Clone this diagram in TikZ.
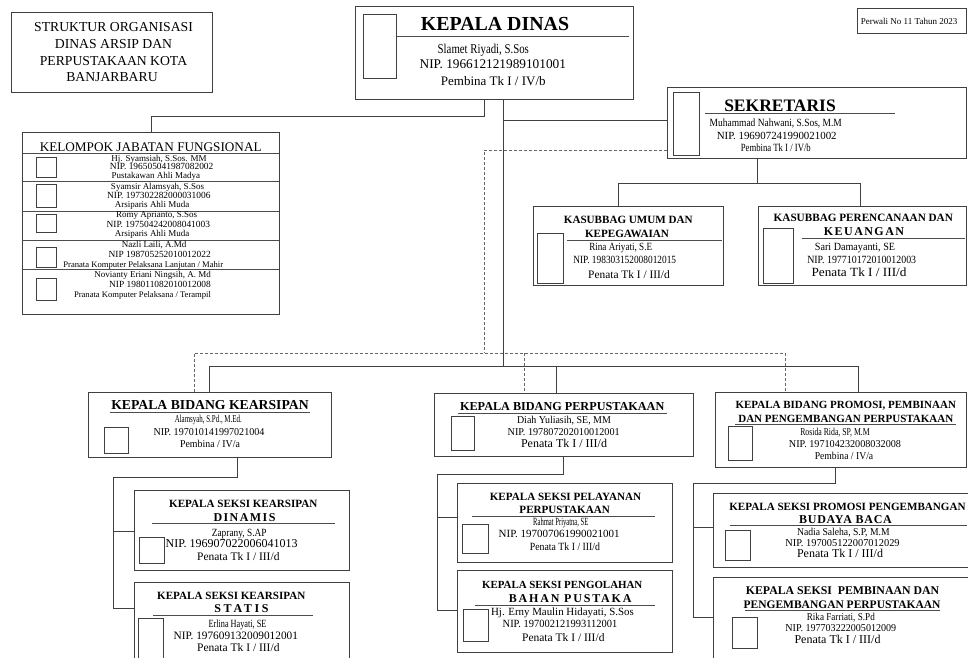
\documentclass[tikz,border=0pt]{standalone}
\usepackage{graphicx}
\usepackage{fontspec}
\setmainfont{Liberation Serif}
\tikzset{
  box/.style={draw=black!75, line width=0.8pt, inner sep=0pt, outer sep=0pt, fill=white},
  photo/.style={draw=black!75, line width=0.8pt, inner sep=0pt, outer sep=0pt},
  txt/.style={anchor=base, inner sep=0pt, outer sep=0pt, text=black},
  conn/.style={draw=black!75, line width=0.8pt},
  dashline/.style={draw=black!60, line width=0.8pt, dash pattern=on 3pt off 2pt},
  rulebar/.style={draw=black!70, line width=0.8pt},
}
\newcommand\mybox[5]{\node[box,minimum width={(#4-#2)*1pt},minimum height={(#5-#3)*1pt}] (#1) at ({(#2+#4)/2},{(#3+#5)/2}) {};}
\newcommand\myph[5]{\node[photo,minimum width={(#4-#2)*1pt},minimum height={(#5-#3)*1pt}] (#1) at ({(#2+#4)/2},{(#3+#5)/2}) {};}
\newcommand\mytxt[6]{\node[txt] (#1) at (#2,#3) {\scalebox{#5}[1]{\fontsize{#4}{#4}\selectfont #6}};}
\newcommand\mybold[6]{\node[txt] (#1) at (#2,#3) {\fontsize{#4}{#4}\selectfont\bfseries\addfontfeature{#5}#6};}
\begin{document}
\begin{tikzpicture}[x=1pt,y=-1pt]
\useasboundingbox (0,0) rectangle (968,657);
\fill[white] (0,0) rectangle (968,657);

\coordinate (jA) at (484,116);
\coordinate (jB) at (151,116);
% boxes
\mybox{ttl}{11}{12}{212}{92}
\mybox{pw}{857}{8}{966.5}{33}
\mybox{kd}{355}{6}{633}{99}
\mybox{sek}{667}{87}{966.5}{158}
\mybox{kjf}{22}{132}{279}{314}
\mybox{kum}{533}{206}{723}{285}
\mybox{kpk}{758}{206}{966.5}{285}
\mybox{bka}{88}{392}{331}{457}
\mybox{bpu}{434}{393}{693}{456}
\mybox{bpr}{715}{392}{966.5}{467}
\mybox{sdi}{134}{490}{349}{570}
\mybox{sst}{134}{582}{349}{672}
\mybox{spl}{457}{483}{672}{562}
\mybox{spo}{457}{570}{672}{652}
\mybox{spb}{713}{493}{980}{567}
\mybox{spp}{713}{577}{980}{672}

% solid lines
\draw[conn] (484,0 |- kd.south) -- (jA) -- (jB) -- (151,0 |- kjf.north);
\draw[conn] (503,0 |- kd.south) -- (503,366);
\draw[conn] (503,120) -- (sek.west |- 0,120);
\draw[conn] (757,0 |- sek.south) -- (757,183);
\draw[conn] (618,0 |- kum.north) -- (618,183) -- (860,183) -- (860,0 |- kpk.north);
\draw[conn] (209,0 |- bka.north) -- (209,366) -- (858,366) -- (858,0 |- bpr.north);
\draw[conn] (556,366) -- (556,0 |- bpu.north);
% dashed coordination lines
\draw[dashline] (sek.west |- 0,150) -- (484,150) -- (484,353);
\draw[dashline] (194,0 |- bka.north) -- (194,353) -- (785,353) -- (785,0 |- bpr.north);
\draw[dashline] (524,353) -- (524,0 |- bpu.north);
% bidang -> seksi
\draw[conn] (237,0 |- bka.south) -- (237,477) -- (113,477) -- (113,608) -- (sst.west |- 0,608);
\draw[conn] (113,531) -- (sdi.west |- 0,531);
\draw[conn] (563,0 |- bpu.south) -- (563,474) -- (437,474) -- (437,610) -- (spo.west |- 0,610);
\draw[conn] (437,517) -- (spl.west |- 0,517);
\draw[conn] (835,0 |- bpr.south) -- (835,483) -- (693,483) -- (693,617) -- (spp.west |- 0,617);
\draw[conn] (693,527) -- (spb.west |- 0,527);

% photos
\myph{kdp}{363}{14}{396}{78}
\myph{sekp}{673}{92}{699}{155}
\myph{kump}{537}{233}{563}{283}
\myph{kpkp}{763}{228}{793}{283}
\myph{kj1}{36}{157}{56}{177}
\myph{kj2}{36}{184}{56}{207}
\myph{kj3}{36}{214}{56}{232}
\myph{kj4}{36}{247}{56}{267}
\myph{kj5}{36}{278}{56}{300}
\myph{bkap}{104}{427}{128}{453}
\myph{bpup}{451}{416}{474}{450}
\myph{bprp}{728}{426}{752}{460}
\myph{sdip}{139}{537}{164}{563}
\myph{sstp}{138}{618}{163}{672}
\myph{splp}{462}{524}{488}{553}
\myph{spop}{463}{609}{488}{641}
\myph{spbp}{725}{530}{750}{560}
\myph{sppp}{732}{617}{757}{648}

% rules inside boxes
\draw[rulebar] (397,36) -- (629,36);
\draw[rulebar] (705,113) -- (895,113);
\foreach \yy in {153,181.7,211,240,269} \draw[rulebar] (22,\yy) -- (279,\yy);
\draw[rulebar] (567,240) -- (722,240);
\draw[rulebar] (802,238) -- (965,238);
\draw[rulebar] (110,412.5) -- (310,412.5);
\draw[rulebar] (458,413.5) -- (667,413.5);
\draw[rulebar] (735,424) -- (956,424);
\draw[rulebar] (152,523.5) -- (335,523.5);
\draw[rulebar] (153,615) -- (313,615);
\draw[rulebar] (472,516) -- (655,516);
\draw[rulebar] (475,605) -- (655,605);
\draw[rulebar] (730,525) -- (967,525);
\draw[rulebar] (745,610) -- (940,610);

% texts
\mytxt{ti1}{113.5}{31.7}{13.7}{1}{STRUKTUR ORGANISASI}
\mytxt{ti2}{113.5}{48.4}{13.7}{1}{DINAS ARSIP DAN}
\mytxt{ti3}{113.5}{65.1}{13.7}{1}{PERPUSTAKAAN KOTA}
\mytxt{ti4}{112}{81.8}{13.7}{1}{BANJARBARU}

\mytxt{pw1}{909}{24.5}{9}{1}{Perwali No 11 Tahun 2023}

\mybold{kd0}{495}{30.7}{19.9}{LetterSpace=0}{KEPALA DINAS}
\mytxt{kd1}{483.3}{53.3}{13.5}{0.8}{Slamet Riyadi, S.Sos}
\mytxt{kd2}{492.8}{68.3}{13.3}{1}{NIP. 196612121989101001}
\mytxt{kd3}{493.3}{85}{13}{1}{Pembina Tk I / IV/b}

\mybold{se0}{780}{111.7}{17.5}{LetterSpace=0}{SEKRETARIS}
\mytxt{se1}{775.8}{126}{11}{0.86}{Muhammad Nahwani, S.Sos, M.M}
\mytxt{se2}{776.7}{139}{10.9}{1}{NIP. 196907241990021002}
\mytxt{se3}{775.8}{151.5}{11}{0.79}{Pembina Tk I / IV/b}

\mytxt{kj0}{150.7}{151}{13.2}{1}{KELOMPOK JABATAN FUNGSIONAL}
\mytxt{kja1}{159}{161}{9}{1}{Hj. Syamsiah, S.Sos. MM}
\mytxt{kja2}{161.7}{169.5}{9.4}{1}{NIP. 196505041987082002}
\mytxt{kja3}{155.8}{178.5}{9}{1}{Pustakawan Ahli Madya}
\mytxt{kjb1}{157.5}{189.5}{9}{1}{Syamsir Alamsyah, S.Sos}
\mytxt{kjb2}{158.8}{198.5}{9.4}{1}{NIP. 197302282000031006}
\mytxt{kjb3}{152}{207.8}{9}{1}{Arsiparis Ahli Muda}
\mytxt{kjc1}{156.7}{217.8}{9}{1}{Romy Aprianto, S.Sos}
\mytxt{kjc2}{158.3}{227}{9.4}{1}{NIP. 197504242008041003}
\mytxt{kjc3}{152}{236.2}{9}{1}{Arsiparis Ahli Muda}
\mytxt{kjd1}{154}{247.8}{9}{1}{Nazli Laili, A.Md}
\mytxt{kjd2}{159.7}{257.8}{9.4}{1}{NIP 198705252010012022}
\mytxt{kjd3}{143.3}{267}{8.6}{1}{Pranata Komputer Pelaksana Lanjutan / Mahir}
\mytxt{kje1}{152.5}{277}{9}{1}{Novianty Eriani Ningsih, A. Md}
\mytxt{kje2}{160}{287}{9.4}{1}{NIP 198011082010012008}
\mytxt{kje3}{142.5}{297.8}{8.6}{1}{Pranata Komputer Pelaksana / Terampil}

\mybold{ku0}{628.3}{223.3}{11.1}{LetterSpace=0}{KASUBBAG UMUM DAN}
\mybold{ku1}{627}{237.7}{11.1}{LetterSpace=0}{KEPEGAWAIAN}
\mytxt{ku2}{620.7}{250}{11}{0.83}{Rina Ariyati, S.E}
\mytxt{ku3}{624.7}{263.3}{11}{0.85}{NIP. 198303152008012015}
\mytxt{ku4}{629}{278.3}{11.4}{1}{Penata Tk I / III/d}

\mybold{kp0}{863.3}{221.7}{11.2}{LetterSpace=0}{KASUBBAG PERENCANAAN DAN}
\mybold{kp1}{864}{235.7}{12}{LetterSpace=12}{KEUANGAN}
\mytxt{kp2}{855}{250}{11}{0.92}{Sari Damayanti, SE}
\mytxt{kp3}{861.7}{263.3}{11}{0.9}{NIP. 197710172010012003}
\mytxt{kp4}{859}{276}{12.5}{1.06}{Penata Tk I / III/d}

\mybold{ba0}{210}{409.5}{13.7}{LetterSpace=0}{KEPALA BIDANG KEARSIPAN}
\mytxt{ba1}{208.3}{422.7}{10.5}{0.66}{Alamsyah, S.Pd., M.Ed.}
\mytxt{ba2}{209}{435}{10.5}{0.96}{NIP. 197010141997021004}
\mytxt{ba3}{210}{447.3}{10.5}{0.94}{Pembina / IV/a}

\mybold{bu0}{562.2}{410.7}{12.2}{LetterSpace=0}{KEPALA BIDANG PERPUSTAKAAN}
\mytxt{bu1}{564}{423.3}{10.5}{0.95}{Diah Yuliasih, SE, MM}
\mytxt{bu2}{563.7}{435.7}{10.5}{0.97}{NIP. 197807202010012001}
\mytxt{bu3}{564}{447.7}{12}{1}{Penata Tk I / III/d}

\mybold{br0}{845.8}{408.3}{11}{LetterSpace=0}{KEPALA BIDANG PROMOSI, PEMBINAAN}
\mybold{br1}{845.8}{422}{11}{LetterSpace=0}{DAN PENGEMBANGAN PERPUSTAKAAN}
\mytxt{br2}{835}{435.7}{10.5}{0.74}{Rosida Rida, SP, M.M}
\mytxt{br3}{845}{447.3}{10.5}{0.97}{NIP. 197104232008032008}
\mytxt{br4}{844}{459.3}{10.5}{0.92}{Pembina / IV/a}

\mybold{sd0}{243.3}{507.3}{11.1}{LetterSpace=0}{KEPALA SEKSI KEARSIPAN}
\mybold{sd1}{244.5}{521.7}{12}{LetterSpace=12}{DINAMIS}
\mytxt{sd2}{239.2}{536}{11}{0.85}{Zaprany, S.AP}
\mytxt{sd3}{231.7}{547.7}{12}{1}{NIP. 196907022006041013}
\mytxt{sd4}{238.3}{560}{11.5}{1}{Penata Tk I / III/d}

\mybold{ss0}{231.3}{599}{11.1}{LetterSpace=0}{KEPALA SEKSI KEARSIPAN}
\mybold{ss1}{241.5}{612.3}{12}{LetterSpace=22}{STATIS}
\mytxt{ss2}{237.5}{627.7}{11}{0.75}{Erlina Hayati, SE}
\mytxt{ss3}{235.8}{639.3}{11.3}{1}{NIP. 197609132009012001}
\mytxt{ss4}{238.3}{651.7}{11.5}{1}{Penata Tk I / III/d}

\mybold{sp0}{565.5}{500.7}{11.1}{LetterSpace=0}{KEPALA SEKSI PELAYANAN}
\mybold{sp1}{564.7}{513.3}{11.1}{LetterSpace=0}{PERPUSTAKAAN}
\mytxt{sp2}{560.8}{525.7}{11}{0.6}{Rahmat Priyatna, SE}
\mytxt{sp3}{559.2}{537.7}{11}{1}{NIP. 197007061990021001}
\mytxt{sp4}{565}{550.7}{11}{0.89}{Penata Tk I / III/d}

\mybold{so0}{562.2}{588.3}{10.9}{LetterSpace=0}{KEPALA SEKSI PENGOLAHAN}
\mybold{so1}{570.2}{602.3}{12}{LetterSpace=15}{BAHAN PUSTAKA}
\mytxt{so2}{562.5}{615.7}{11}{0.99}{Hj. Erny Maulin Hidayati, S.Sos}
\mytxt{so3}{560}{627.7}{11}{0.95}{NIP. 197002121993112001}
\mytxt{so4}{563.3}{641.7}{11.5}{1}{Penata Tk I / III/d}

\mybold{sb0}{847.5}{510}{11.1}{LetterSpace=0}{KEPALA SEKSI PROMOSI PENGEMBANGAN}
\mybold{sb1}{845.5}{523.3}{12}{LetterSpace=6}{BUDAYA BACA}
\mytxt{sb2}{843.3}{535}{10.5}{0.92}{Nadia Saleha, S.P, M.M}
\mytxt{sb3}{842.5}{546}{10.5}{0.99}{NIP. 197005122007012029}
\mytxt{sb4}{840}{557.3}{12}{1}{Penata Tk I / III/d}

\mybold{sq0}{842.5}{594.3}{11.8}{LetterSpace=0}{KEPALA SEKSI \ PEMBINAAN DAN}
\mybold{sq1}{842}{608.3}{11.5}{LetterSpace=0}{PENGEMBANGAN PERPUSTAKAAN}
\mytxt{sq2}{840.8}{620}{10.5}{0.87}{Rika Farriati, S.Pd}
\mytxt{sq3}{840.8}{631.7}{10.5}{0.96}{NIP. 197703222005012009}
\mytxt{sq4}{837.5}{643.3}{12}{1}{Penata Tk I / III/d}
\end{tikzpicture}
\end{document}
